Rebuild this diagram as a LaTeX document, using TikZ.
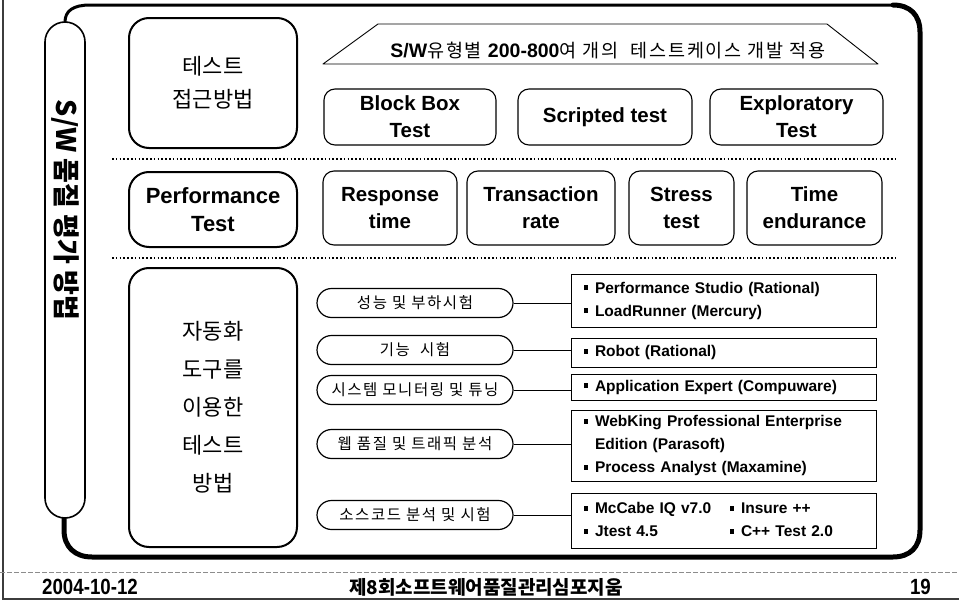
\documentclass[tikz,border=0pt]{standalone}
\usepackage{fontspec}
\setmainfont{Liberation Sans}
\newfontfamily\ko{Noto Sans CJK KR}
\newfontfamily\kosp{Noto Sans CJK KR}[LetterSpace=10]
\newfontfamily\cond{Liberation Sans}[FakeStretch=0.85]
\usepackage{tikz}
\usetikzlibrary{calc}
\definecolor{ink}{HTML}{000000}
\definecolor{pageline}{HTML}{3C3C3C}
\definecolor{footdash}{HTML}{8C8C8C}
\tikzset{
  frame/.style={draw=ink, line width=3pt, line cap=round, line join=round},
  tab/.style={draw=ink, line width=1.6pt, rounded corners=20pt, minimum width=40pt, minimum height=496pt, inner sep=0pt},
  bigbox/.style={draw=ink, line width=2pt, rounded corners=20pt, minimum width=168pt, inner sep=0pt, align=center},
  testbox/.style={draw=ink, line width=1.1pt, rounded corners=11pt, inner sep=0pt, align=center,
    font=\fontsize{20.5}{27}\selectfont\bfseries},
  pill/.style={draw=ink, line width=1.2pt, rounded corners=14.5pt, minimum width=196pt, minimum height=29pt,
    inner sep=0pt, font=\kosp\fontsize{15.5}{16}\selectfont},
  toolbox/.style={draw=ink, line width=0.9pt, minimum width=305pt, text width=279pt, inner xsep=13pt,
    inner ysep=0pt, align=left, font=\fontsize{15.5}{23}\selectfont\bfseries},
  sep/.style={draw=ink, line width=1.6pt, dash pattern=on 1.6pt off 2.2pt},
  link/.style={draw=ink, line width=0.9pt},
  trap/.style={draw=ink, line width=0.9pt, line join=round}
}
\newcommand{\itm}{\makebox[11pt][l]{\raisebox{3pt}{\rule{4.2pt}{4.8pt}}}}

\begin{document}
\begin{tikzpicture}[x=1pt, y=-1pt]
  \useasboundingbox (0,0) rectangle (959,605);

  % page edge and footer
  \draw[pageline, line width=1.5pt] (3,0) -- (3,599) -- (959,599);
  \draw[footdash, line width=0.6pt, dash pattern=on 5pt off 2pt] (0,572) -- (959,572);
  \node[anchor=base west, inner sep=0pt, font=\cond\bfseries\fontsize{22}{22}\selectfont] (date) at (42,594) {2004-10-12};
  \node[anchor=base, inner sep=0pt, font=\ko\bfseries\fontsize{19}{19}\selectfont] (conf) at (486,594) {제8회소프트웨어품질관리심포지움};
  \node[anchor=base east, inner sep=0pt, font=\cond\bfseries\fontsize{22}{22}\selectfont] (pageno) at (931,594) {19};

  % outer frame
  \draw[frame] (65,22) .. controls (65,11) and (73,5) .. (90,5) -- (893,5);
  \draw[frame, line width=5pt] (893,5) .. controls (910,5) and (920,15) .. (920,32) -- (920,530)
    .. controls (920,547) and (910,557) .. (893,557) -- (92,557)
    .. controls (75,557) and (64,547) .. (64,530) -- (64,518);

  % side tab
  \node[tab, fill=white] (tab) at (65,270) {};
  \node[rotate=-90, inner sep=0pt, font=\ko\bfseries\fontsize{27}{27}\selectfont] (title) at (65,210) {S/W 품질 평가 방법};

  % separators
  \draw[sep] (112,159) -- (897,159);
  \draw[sep] (112,258) -- (897,258);

  % left column
  \node[bigbox, minimum height=130pt, font=\ko\fontsize{22}{33}\selectfont] (approach) at (213,83) {테스트\\접근방법};
  \node[bigbox, minimum height=75pt, font=\fontsize{22}{28}\selectfont\bfseries] (perf) at (213,209.5) {Performance\\Test};
  \node[bigbox, minimum height=279pt, font=\ko\fontsize{22}{38}\selectfont] (auto) at (213,407.5) {자동화\\도구를\\이용한\\테스트\\방법};

  % test case banner
  \draw[trap] (323,64) -- (378,24) -- (827,24) -- (878,64) -- cycle;
  \node[anchor=base, inner sep=0pt] (banner) at (608,57)
    {{\bfseries\fontsize{19.5}{19}\selectfont S/W}{\kosp\fontsize{18.5}{19}\selectfont 유형별 }{\bfseries\fontsize{19.5}{19}\selectfont 200-800}{\kosp\fontsize{18.5}{19}\selectfont 여 개의\ \ 테스트케이스 개발 적용}};

  % approach boxes
  \node[testbox, minimum width=172pt, minimum height=56pt] (blackbox) at (410,117) {Block Box\\Test};
  \node[testbox, minimum width=174pt, minimum height=56pt] (scripted) at (605,117) {Scripted test};
  \node[testbox, minimum width=173pt, minimum height=56pt] (explore) at (796.5,117) {Exploratory\\Test};

  % performance boxes
  \node[testbox, minimum width=134pt, minimum height=74pt] (resp) at (390,208) {Response\\time};
  \node[testbox, minimum width=148pt, minimum height=74pt] (trans) at (541,208) {Transaction\\rate};
  \node[testbox, minimum width=105pt, minimum height=74pt] (stress) at (681.5,208) {Stress\\test};
  \node[testbox, minimum width=135pt, minimum height=74pt] (endur) at (814.5,208) {Time\\endurance};

  % tool categories
  \node[pill] (load) at (415,303) {성능 및 부하시험};
  \node[pill] (func) at (415,350) {기능\ \ 시험};
  \node[pill] (mon) at (415,390) {시스템 모니터링 및 튜닝};
  \node[pill] (web) at (415,444) {웹 품질 및 트래픽 분석};
  \node[pill] (code) at (415,515) {소스코드 분석 및 시험};

  % tools
  \node[toolbox, minimum height=53pt] (loadtools) at (723.5,300.5)
    {\itm Performance Studio (Rational)\\\itm LoadRunner (Mercury)};
  \node[toolbox, minimum height=29pt] (functools) at (723.5,352.5) {\itm Robot (Rational)};
  \node[toolbox, minimum height=26pt] (montools) at (723.5,387) {\itm Application Expert (Compuware)};
  \node[toolbox, minimum height=71pt] (webtools) at (723.5,445.5)
    {\itm WebKing Professional Enterprise\\\hspace*{11pt}Edition (Parasoft)\\\itm Process Analyst (Maxamine)};
  \node[toolbox, minimum height=55pt] (codetools) at (723.5,520.5)
    {\begin{tabular}{@{}p{146pt}@{}l@{}}\itm McCabe IQ v7.0 & \itm Insure ++\\\itm Jtest 4.5 & \itm C++ Test 2.0\end{tabular}};

  \draw[link] (load.east) -- (load.east -| loadtools.west);
  \draw[link] (func.east) -- (func.east -| functools.west);
  \draw[link] (mon.east) -- (mon.east -| montools.west);
  \draw[link] (web.east) -- (web.east -| webtools.west);
  \draw[link] (code.east) -- (code.east -| codetools.west);
\end{tikzpicture}
\end{document}
